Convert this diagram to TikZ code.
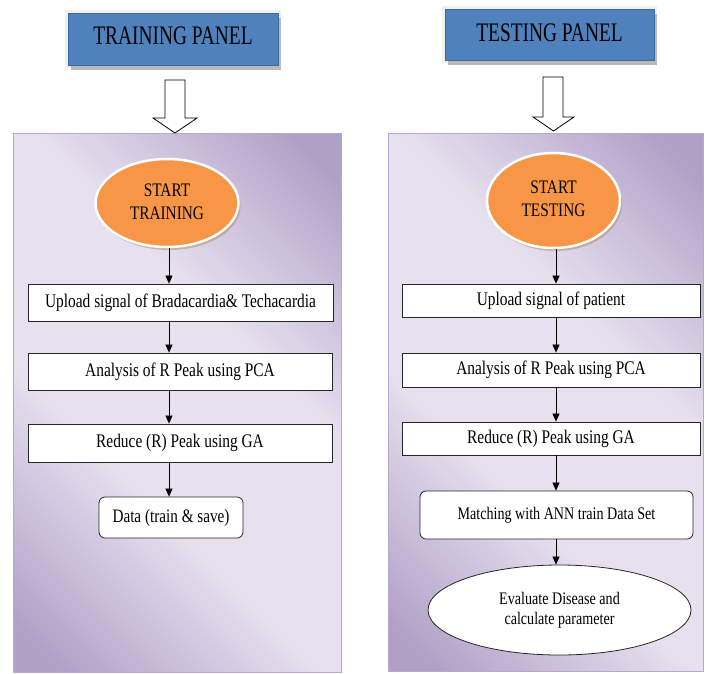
\documentclass[tikz,border=0pt]{standalone}
\usepackage{fontspec}
\setmainfont{Liberation Serif}
\usetikzlibrary{shapes.geometric,arrows.meta,shadows}
\definecolor{pdark}{HTML}{B09FC6}
\definecolor{plight}{HTML}{E7E1EF}
\definecolor{pborder}{HTML}{B7A8CC}
\definecolor{tblue}{HTML}{4F81BD}
\definecolor{tblueb}{HTML}{3E6A9E}
\definecolor{orng}{HTML}{F79646}
\pgfdeclareverticalshading{panelshade}{100bp}{color(0bp)=(pdark); color(18bp)=(pdark); color(40bp)=(plight); color(60bp)=(plight); color(82bp)=(pdark); color(100bp)=(pdark)}
\newcommand{\vt}[2][1.25]{\scalebox{1}[#1]{#2}}
\tikzset{
  titlebox/.style={rectangle, fill=tblue, draw=tblueb, line width=0.7pt, inner sep=0pt,
    preaction={draw=gray!12, line width=6pt},
    drop shadow={shadow xshift=3pt, shadow yshift=-5pt, fill=gray!55, opacity=1},
    font=\fontsize{19.4}{22}\selectfont},
  panelbox/.style={rectangle, shading=panelshade, shading angle=-45, draw=pborder, line width=1pt, inner sep=0pt},
  blockarrow/.style={draw=black, fill=white, line width=0.8pt, line join=miter},
  startell/.style={ellipse, fill=orng, draw=white, line width=2.5pt, inner sep=0pt,
    drop shadow={shadow xshift=2pt, shadow yshift=-3pt, fill=brown!60!gray, opacity=0.45},
    font=\fontsize{15.3}{18.4}\selectfont},
  stepbox/.style={rectangle, fill=white, draw=black!85, line width=0.8pt, inner sep=0pt,
    font=\fontsize{15.4}{18.5}\selectfont},
  roundbox/.style={stepbox, rounded corners=6pt},
  endell/.style={ellipse, fill=white, draw=black!85, line width=0.8pt, inner sep=0pt,
    font=\fontsize{14.1}{16}\selectfont},
  conn/.style={draw=black, line width=0.7pt, -{Triangle[length=8pt,width=7pt]}}
}
\begin{document}
\begin{tikzpicture}[x=1pt,y=-1pt]
\useasboundingbox (0,0) rectangle (706,673);
% panels
\node[panelbox, minimum width=328pt, minimum height=539pt] (lp) at (177,402.5) {};
\node[panelbox, minimum width=315pt, minimum height=538pt] (rp) at (545.5,402) {};
% titles
\node[titlebox, minimum width=210pt, minimum height=52pt] (trp) at (173,39) {\raisebox{6pt}{\vt[1.38]{TRAINING PANEL}}};
\node[titlebox, minimum width=209pt, minimum height=51pt] (tsp) at (549.5,34.5) {\raisebox{4.5pt}{\vt[1.38]{TESTING PANEL}}};
% block arrows
\draw[blockarrow] (165,80) -- (185,80) -- (185,118) -- (197,118) -- (175,133) -- (153,118) -- (165,118) -- cycle;
\draw[blockarrow] (543,77) -- (563,77) -- (563,117) -- (574,117) -- (553.5,131) -- (533,117) -- (543,117) -- cycle;
% left flow
\node[startell, minimum width=143pt, minimum height=88pt] (st1) at (167,203) {\raisebox{3pt}{\vt{\begin{tabular}{@{}c@{}}START\\TRAINING\end{tabular}}}};
\node[stepbox, minimum width=305pt, minimum height=37pt] (u1) at (180.5,302.5) {\vt{Upload signal of Bradacardia\& Techacardia}};
\node[stepbox, minimum width=304pt, minimum height=37pt] (a1) at (180,371.5) {\vt{Analysis of R Peak using PCA}};
\node[stepbox, minimum width=304pt, minimum height=38pt] (r1) at (180,443) {\vt{Reduce (R) Peak using GA}};
\node[roundbox, minimum width=144pt, minimum height=41pt, font=\fontsize{15.2}{18}\selectfont] (d1) at (171,517.5) {\vt{Data (train \& save)}};
\coordinate (lx) at (169,0);
\draw[conn] (st1.south -| lx) -- (u1.north -| lx);
\draw[conn] (u1.south -| lx) -- (a1.north -| lx);
\draw[conn] (a1.south -| lx) -- (r1.north -| lx);
\draw[conn] (r1.south -| lx) -- (d1.north -| lx);
% right flow
\node[startell, minimum width=133pt, minimum height=95pt] (st2) at (553.5,200.5) {\vt{\begin{tabular}{@{}c@{}}START\\TESTING\end{tabular}}};
\node[stepbox, minimum width=298pt, minimum height=33pt] (u2) at (551,300.5) {\vt{Upload signal of patient}};
\node[stepbox, minimum width=298pt, minimum height=34pt] (a2) at (551,370) {\vt{Analysis of R Peak using PCA}};
\node[stepbox, minimum width=298pt, minimum height=33pt] (r2) at (551,438.5) {\vt{Reduce (R) Peak using GA}};
\node[roundbox, minimum width=273pt, minimum height=48pt, font=\fontsize{14.1}{16}\selectfont] (m2) at (556.5,515) {\raisebox{3pt}{\vt{Matching with ANN train Data Set}}};
\node[endell, minimum width=263pt, minimum height=90pt] (e2) at (559.5,610) {\vt{\begin{tabular}{@{}c@{}}Evaluate Disease and\\calculate parameter\end{tabular}}};
\coordinate (rx) at (556,0);
\draw[conn] (st2.south -| rx) -- (u2.north -| rx);
\draw[conn] (u2.south -| rx) -- (a2.north -| rx);
\draw[conn] (a2.south -| rx) -- (r2.north -| rx);
\draw[conn] (r2.south -| rx) -- (m2.north -| rx);
\draw[conn] (m2.south -| rx) -- (e2.north -| rx);
\end{tikzpicture}
\end{document}
